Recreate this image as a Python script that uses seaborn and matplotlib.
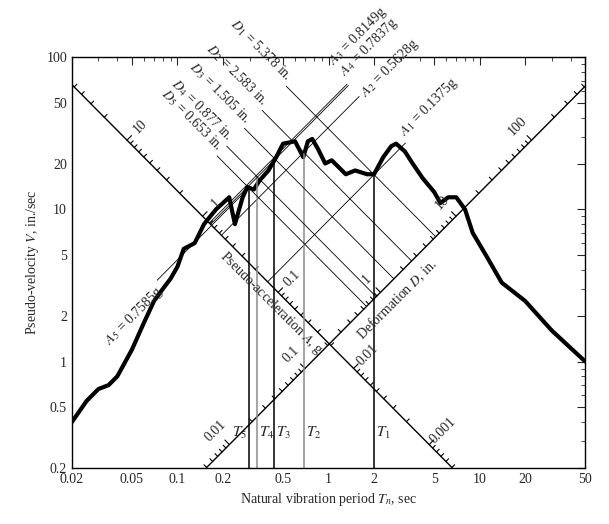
import numpy as np
import matplotlib
matplotlib.use("Agg")
import matplotlib.pyplot as plt
import seaborn as sns

sns.set_style("white")
plt.rcParams['font.family'] = ['Liberation Serif', 'DejaVu Serif']
plt.rcParams['mathtext.fontset'] = 'stix'

period = [0.02, 0.025, 0.03, 0.035, 0.04, 0.05, 0.06, 0.07, 0.08, 0.09, 0.1, 0.11, 0.13, 0.15, 0.18,
          0.2, 0.22, 0.24, 0.27, 0.29, 0.32, 0.35, 0.4, 0.45, 0.5, 0.6, 0.65, 0.68, 0.73, 0.78, 0.85,
          0.95, 1.05, 1.3, 1.5, 1.8, 2.0, 2.3, 2.6, 2.8, 3.2, 3.6, 4.2, 5.0, 5.5, 6.2, 7.0, 8.0, 9.0,
          11.0, 14.0, 20.0, 30.0, 50.0]
velocity = [0.4, 0.55, 0.66, 0.7, 0.8, 1.2, 1.8, 2.5, 3.0, 3.5, 4.2, 5.5, 6.0, 8.0, 10.0,
            11.0, 12.0, 8.0, 12.0, 14.0, 13.5, 15.5, 18.0, 22.0, 27.0, 28.0, 24.0, 22.0, 28.0, 29.0, 25.0,
            20.0, 21.0, 17.0, 18.0, 17.0, 17.0, 22.0, 26.0, 27.0, 24.0, 20.0, 16.0, 13.0, 11.0, 12.0, 12.0, 10.0, 7.0,
            5.0, 3.3, 2.5, 1.6, 1.0]

pt_names = ["1", "2", "3", "4", "5"]
D_vals = [5.378, 2.583, 1.505, 0.877, 0.653]
A_vals = [0.1375, 0.5628, 0.8149, 0.7837, 0.7585]
A_ticks = [10, 1, 0.1, 0.01, 0.001]
D_ticks = [0.01, 0.1, 1, 10, 100]
x_ticks = [0.02, 0.05, 0.1, 0.2, 0.5, 1, 2, 5, 10, 20, 50]
y_ticks = [0.2, 0.5, 1, 2, 5, 10, 20, 50, 100]

g = 386.09
w = 2 * np.pi
D_AX = 0.21   # constant-D line carrying the acceleration scale
A_AX = 0.021  # constant-A line carrying the deformation scale

def V_from_DA(D, A):
    T = w * np.sqrt(D / (A * g))
    return T, w * D / T

fig = plt.figure(figsize=(6.09, 5.24), dpi=100)
ax = fig.add_axes([0.118, 0.107, 0.843, 0.784])
sns.lineplot(x=period, y=velocity, ax=ax, color='black', lw=3, sort=False, estimator=None)
ax.set_xscale('log'); ax.set_yscale('log')
ax.set_xlim(0.02, 50); ax.set_ylim(0.2, 100)
ax.set_xticks(x_ticks); ax.set_xticklabels([f"{t:g}" for t in x_ticks])
ax.set_yticks(y_ticks); ax.set_yticklabels([f"{t:g}" for t in y_ticks])
ax.tick_params(which='both', direction='in', top=True, right=True, labelsize=10)
ax.tick_params(which='major', length=6); ax.tick_params(which='minor', length=3)
for s in ax.spines.values():
    s.set_color('black'); s.set_linewidth(1)
ax.set_xlabel("Natural vibration period $T_n$, sec", fontsize=10)
ax.set_ylabel("Pseudo-velocity $V$, in./sec", fontsize=10)

# diagonal axes
Tl = np.array([0.02, w * D_AX / 0.2])
ax.plot(Tl, w * D_AX / Tl, color='black', lw=1)
Td = np.array([0.2 * w / (A_AX * g), 50])
ax.plot(Td, A_AX * g * Td / w, color='black', lw=1)

def log_off(T, V, dx, dy):
    return T * 10 ** dx, V * 10 ** dy

for dec in range(-4, 2):
    for k in range(1, 10):
        a = k * 10.0 ** dec
        T, V = V_from_DA(D_AX, a)
        if not (0.02 <= T <= Tl[1]):
            continue
        L = 0.03 if k == 1 else 0.018
        T2, V2 = log_off(T, V, L, L)
        ax.plot([T, T2], [V, V2], color='black', lw=0.8)
    for k in range(1, 10):
        d = k * 10.0 ** (dec + 1)
        T, V = V_from_DA(d, A_AX)
        if not (Td[0] <= T <= 50):
            continue
        L = 0.03 if k == 1 else 0.018
        T2, V2 = log_off(T, V, -L, L)
        ax.plot([T, T2], [V, V2], color='black', lw=0.8)
for a in A_ticks:
    T, V = V_from_DA(D_AX, a)
    T2, V2 = log_off(T, V, 0.09, 0.09)
    ax.text(T2, V2, f"{a:g}", rotation=45, ha='center', va='center', fontsize=10)
for d in D_ticks:
    T, V = V_from_DA(d, A_AX)
    T2, V2 = log_off(T, V, -0.09, 0.09)
    ax.text(T2, V2, f"{d:g}", rotation=45, ha='center', va='center', fontsize=10)
ax.text(0.42, 2.4, "Pseudo-acceleration $A$, g", rotation=-45, ha='center', va='center', fontsize=10)
ax.text(2.85, 2.55, "Deformation $D$, in.", rotation=45, ha='center', va='center', fontsize=10)

# construction lines for the five points
label_off = {"1": (0, 0), "2": (5, -5), "3": (-9, 9), "4": (-2, 2), "5": (0, 0)}
for name, D, A in zip(pt_names, D_vals, A_vals):
    Tn, Vn = V_from_DA(D, A)
    col = '0.55' if name in ("2", "4") else 'black'
    ax.plot([Tn, Tn], [0.2, Vn], color=col, lw=1.1)
    # D line from A=2 down to the deformation axis
    T0, V0 = V_from_DA(D, 2.0)
    T1, V1 = V_from_DA(D, A_AX)
    ax.plot([T0, T1], [V0, V1], color='black', lw=0.6, clip_on=False)
    ax.text(T0 * 0.97, V0 * 1.03, f"$D_{name}$ = {D} in.", rotation=-45, ha='right', va='bottom',
            fontsize=10, rotation_mode='anchor', clip_on=False)
    # A line
    if name == "5":
        Ta, Va = V_from_DA(0.04, A)
        ax.plot([Ta, Tn], [Va, Vn], color='black', lw=0.6)
        ax.text(Ta * 0.96, Va * 0.96, f"$A_{name}$ = {A}g", rotation=45, ha='right', va='top',
                fontsize=10, rotation_mode='anchor')
    else:
        Ta, Va = V_from_DA(D_AX, A)
        Tb, Vb = V_from_DA(14, A)
        ax.plot([Ta, Tb], [Va, Vb], color='black', lw=0.6, clip_on=False)
        ox, oy = label_off[name]
        ax.annotate(f"$A_{name}$ = {A}g", (Tb, Vb), xytext=(2 + ox, 2 + oy), textcoords='offset points',
                    rotation=45, ha='left', va='bottom', fontsize=10, rotation_mode='anchor',
                    annotation_clip=False)
    if name == "5":
        ax.text(Tn * 0.97, 0.3, f"$T_{name}$", ha='right', va='bottom', fontsize=11)
    else:
        ax.text(Tn * 1.03, 0.3, f"$T_{name}$", ha='left', va='bottom', fontsize=11)

fig.savefig("out.png", dpi=100)
